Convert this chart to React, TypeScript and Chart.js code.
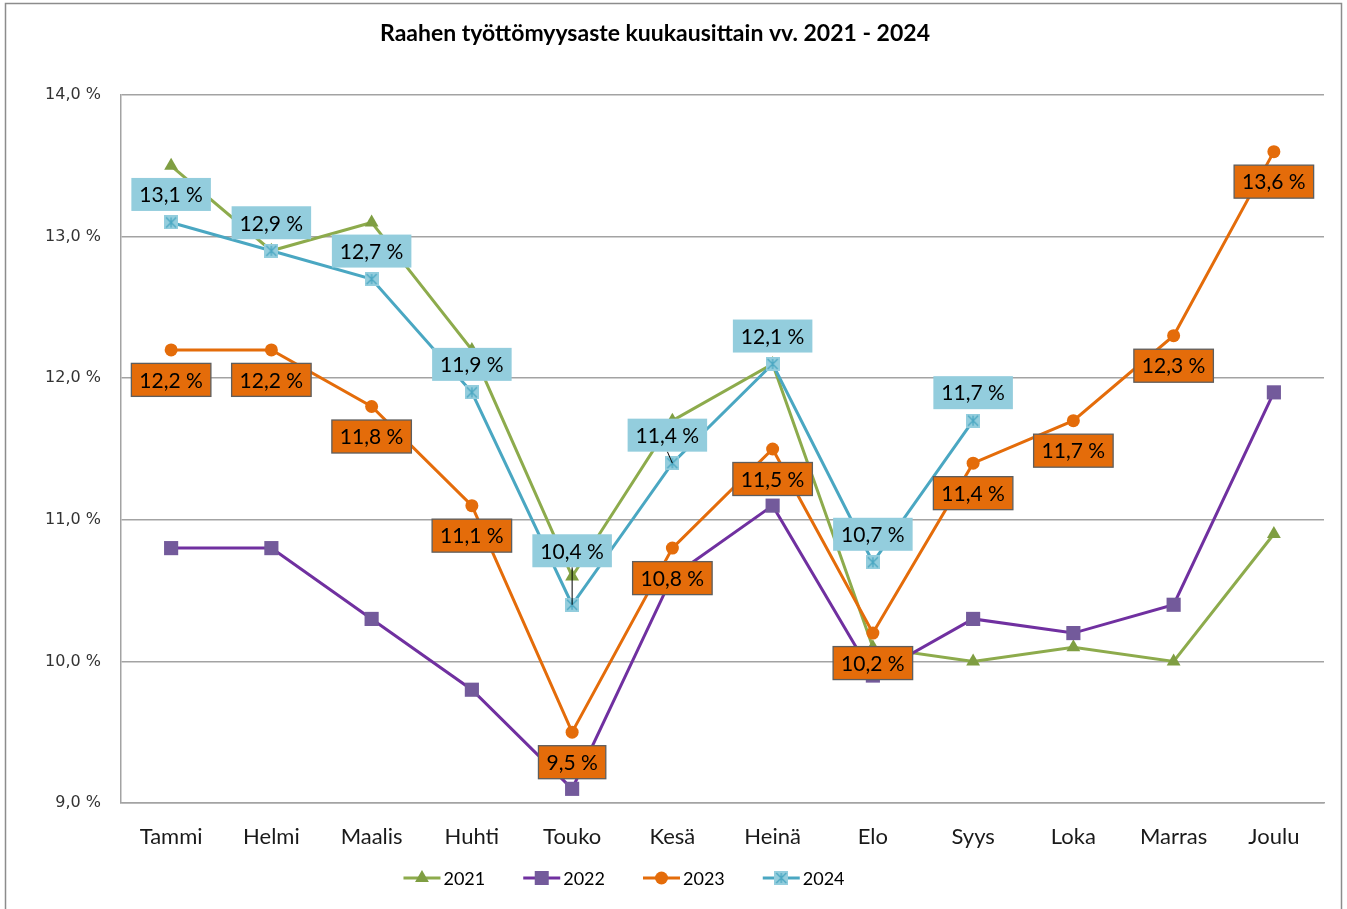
import React, { useEffect, useRef } from 'react';
import { Chart, registerables } from 'chart.js';

Chart.register(...registerables);

const TITLE = 'Raahen työttömyysaste kuukausittain vv. 2021 - 2024';
const MONTHS = ['Tammi', 'Helmi', 'Maalis', 'Huhti', 'Touko', 'Kesä', 'Heinä', 'Elo', 'Syys', 'Loka', 'Marras', 'Joulu'];
const YEARS = ['2021', '2022', '2023', '2024'];
const RATE_2021 = [13.5, 12.9, 13.1, 12.2, 10.6, 11.7, 12.1, 10.1, 10.0, 10.1, 10.0, 10.9];
const RATE_2022 = [10.8, 10.8, 10.3, 9.8, 9.1, 10.6, 11.1, 9.9, 10.3, 10.2, 10.4, 11.9];
const RATE_2023 = [12.2, 12.2, 11.8, 11.1, 9.5, 10.8, 11.5, 10.2, 11.4, 11.7, 12.3, 13.6];
const RATE_2024 = [13.1, 12.9, 12.7, 11.9, 10.4, 11.4, 12.1, 10.7, 11.7, null, null, null];
const Y_MIN = 9;
const Y_MAX = 14;
const Y_STEP = 1;

// styling / layout constants
const W = 1347;
const H = 909;
const GRID = '#A3A3A3';
const C2021 = '#8DAB4C';
const C2021M = '#7F9E42';
const C2022 = '#7030A0';
const C2022M = '#735A9B';
const C2023 = '#E46C0A';
const C2024 = '#4AA7C2';
const C2024BOX = '#93CDDD';
const LABEL_FONT = '21px Lato, "Open Sans", sans-serif';
const TITLE_FONT = 'bold 23px Lato, "Open Sans", sans-serif';
const TITLE_X = 655;
const TITLE_Y = 34;
const LEGEND_CENTER_X = 624;
const LEGEND_Y = 878;
// label nudges for 2024 labels (index -> pixel nudge)
const NUDGE_2024: Record<number, { dx: number; dy: number }> = { 4: { dx: 0, dy: -26 }, 5: { dx: -5, dy: 0 } };

const fmt = (v: number) => v.toFixed(1).replace('.', ',') + ' %';

function makeStarMarker(size: number, fill: string, stroke: string) {
  const c = document.createElement('canvas');
  c.width = size;
  c.height = size;
  const g = c.getContext('2d')!;
  g.fillStyle = fill;
  g.fillRect(0, 0, size, size);
  g.strokeStyle = stroke;
  g.lineWidth = 1.3;
  const m = size / 2;
  const r = size / 2 - 2;
  g.beginPath();
  g.moveTo(m, m - r);
  g.lineTo(m, m + r);
  g.moveTo(m - r, m - r);
  g.lineTo(m + r, m + r);
  g.moveTo(m + r, m - r);
  g.lineTo(m - r, m + r);
  g.stroke();
  return c;
}

function drawMarker(ctx: CanvasRenderingContext2D, kind: string, x: number, y: number, color: string, img?: HTMLCanvasElement) {
  ctx.save();
  ctx.fillStyle = color;
  if (kind === 'triangle') {
    const r = 8;
    ctx.beginPath();
    ctx.moveTo(x, y - r);
    ctx.lineTo(x + r * 0.866, y + r * 0.5);
    ctx.lineTo(x - r * 0.866, y + r * 0.5);
    ctx.closePath();
    ctx.fill();
  } else if (kind === 'rect') {
    ctx.fillRect(x - 7, y - 7, 14, 14);
  } else if (kind === 'circle') {
    ctx.beginPath();
    ctx.arc(x, y, 6.5, 0, Math.PI * 2);
    ctx.fill();
  } else if (img) {
    ctx.drawImage(img, x - img.width / 2, y - img.height / 2);
  }
  ctx.restore();
}

export default function App() {
  const ref = useRef<HTMLCanvasElement>(null);

  useEffect(() => {
    const canvas = ref.current!;
    const star = makeStarMarker(14, C2024BOX, C2024);

    const seriesStyles = [
      { line: C2021, marker: C2021M, kind: 'triangle' },
      { line: C2022, marker: C2022M, kind: 'rect' },
      { line: C2023, marker: C2023, kind: 'circle' },
      { line: C2024, marker: C2024, kind: 'image' },
    ];

    const decor = {
      id: 'decor',
      beforeDraw(chart: any) {
        const ctx = chart.ctx as CanvasRenderingContext2D;
        ctx.save();
        ctx.fillStyle = '#fff';
        ctx.fillRect(0, 0, W, H);
        ctx.strokeStyle = '#8C8C8C';
        ctx.lineWidth = 1.5;
        ctx.strokeRect(5.5, 3.5, 1336, 930);
        ctx.restore();
      },
      afterDatasetsDraw(chart: any) {
        const ctx = chart.ctx as CanvasRenderingContext2D;
        ctx.save();
        ctx.font = LABEL_FONT;
        ctx.textAlign = 'center';
        ctx.textBaseline = 'middle';
        // 2023 labels: below points, orange boxes
        const m23 = chart.getDatasetMeta(2);
        m23.data.forEach((pt: any, i: number) => {
          const v = RATE_2023[i];
          if (v == null) return;
          const t = fmt(v);
          const tw = ctx.measureText(t).width;
          const bw = tw + 16;
          const bh = 33;
          const cx = pt.x;
          const cy = pt.y + 30;
          ctx.fillStyle = C2023;
          ctx.fillRect(cx - bw / 2, cy - bh / 2, bw, bh);
          ctx.strokeStyle = '#5E5E5E';
          ctx.lineWidth = 1.3;
          ctx.strokeRect(cx - bw / 2, cy - bh / 2, bw, bh);
          ctx.fillStyle = '#000';
          ctx.fillText(t, cx, cy + 1);
        });
        // 2024 labels: above points, light blue boxes
        const m24 = chart.getDatasetMeta(3);
        m24.data.forEach((pt: any, i: number) => {
          const v = RATE_2024[i];
          if (v == null) return;
          const t = fmt(v);
          const tw = ctx.measureText(t).width;
          const bw = tw + 16;
          const bh = 33;
          const n = NUDGE_2024[i] || { dx: 0, dy: 0 };
          const cx = pt.x + n.dx;
          const cy = pt.y - 28 + n.dy;
          if (n.dx !== 0 || n.dy !== 0) {
            ctx.strokeStyle = '#000';
            ctx.lineWidth = 1;
            ctx.beginPath();
            ctx.moveTo(cx, cy + bh / 2);
            ctx.lineTo(pt.x, pt.y);
            ctx.stroke();
          }
          ctx.fillStyle = C2024BOX;
          ctx.fillRect(cx - bw / 2, cy - bh / 2, bw, bh);
          ctx.fillStyle = '#000';
          ctx.fillText(t, cx, cy + 1);
        });
        ctx.restore();
      },
      afterDraw(chart: any) {
        const ctx = chart.ctx as CanvasRenderingContext2D;
        ctx.save();
        // title
        ctx.font = TITLE_FONT;
        ctx.fillStyle = '#000';
        ctx.textAlign = 'center';
        ctx.textBaseline = 'middle';
        ctx.fillText(TITLE, TITLE_X, TITLE_Y);
        // legend
        ctx.font = '18px Lato, "Open Sans", sans-serif';
        const swatch = 37;
        const gap = 3;
        const between = 38;
        const widths = YEARS.map((y) => swatch + gap + ctx.measureText(y).width);
        const total = widths.reduce((a, b) => a + b, 0) + between * (YEARS.length - 1);
        let x = LEGEND_CENTER_X - total / 2;
        ctx.textAlign = 'left';
        YEARS.forEach((y, i) => {
          const s = seriesStyles[i];
          ctx.strokeStyle = s.line;
          ctx.lineWidth = 3;
          ctx.beginPath();
          ctx.moveTo(x, LEGEND_Y);
          ctx.lineTo(x + swatch, LEGEND_Y);
          ctx.stroke();
          drawMarker(ctx, s.kind, x + swatch / 2, LEGEND_Y, s.marker, star);
          ctx.fillStyle = '#000';
          ctx.fillText(y, x + swatch + gap, LEGEND_Y + 1);
          x += widths[i] + between;
        });
        ctx.restore();
      },
    };

    const chart = new Chart(canvas, {
      type: 'line',
      data: {
        labels: MONTHS,
        datasets: [
          {
            label: YEARS[0],
            data: RATE_2021,
            borderColor: C2021,
            backgroundColor: C2021M,
            borderWidth: 3,
            pointStyle: 'triangle',
            pointRadius: 8,
            pointBorderWidth: 0,
            pointBackgroundColor: C2021M,
            pointBorderColor: C2021M,
            order: 4,
          },
          {
            label: YEARS[1],
            data: RATE_2022,
            borderColor: C2022,
            backgroundColor: C2022M,
            borderWidth: 3,
            pointStyle: 'rect',
            pointRadius: 10,
            pointBorderWidth: 0,
            pointBackgroundColor: C2022M,
            pointBorderColor: C2022M,
            order: 3,
          },
          {
            label: YEARS[2],
            data: RATE_2023,
            borderColor: C2023,
            backgroundColor: C2023,
            borderWidth: 3,
            pointStyle: 'circle',
            pointRadius: 6.5,
            pointBorderWidth: 0,
            pointBackgroundColor: C2023,
            pointBorderColor: C2023,
            order: 2,
          },
          {
            label: YEARS[3],
            data: RATE_2024,
            borderColor: C2024,
            backgroundColor: C2024BOX,
            borderWidth: 3,
            pointStyle: star as any,
            pointRadius: 7,
            pointBorderWidth: 0,
            order: 1,
          },
        ],
      },
      options: {
        responsive: false,
        animation: false,
        spanGaps: false,
        layout: { padding: { top: 95, right: 23, left: 0, bottom: 0 } },
        plugins: {
          legend: { display: false },
          title: { display: false },
          tooltip: { enabled: false },
        },
        elements: { line: { tension: 0 } },
        scales: {
          x: {
            offset: true,
            grid: { display: false, drawTicks: false },
            border: { display: true, color: GRID, width: 1.5 },
            ticks: {
              color: '#1A1A1A',
              font: { family: 'Lato, "Open Sans", sans-serif', size: 22 },
              padding: 21,
              maxRotation: 0,
              autoSkip: false,
            },
            afterFit: (s: any) => {
              s.height = 106;
            },
          },
          y: {
            min: Y_MIN,
            max: Y_MAX,
            grid: { color: GRID, lineWidth: 1.5, drawTicks: false },
            border: { display: true, color: GRID, width: 1.5 },
            ticks: {
              stepSize: Y_STEP,
              color: '#333333',
              font: { family: '"DejaVu Sans", Verdana, sans-serif', size: 16 },
              padding: 20,
              callback: (v: any) => fmt(Number(v)),
            },
            afterFit: (s: any) => {
              s.width = 121;
            },
          },
        },
      },
      plugins: [decor],
    });

    return () => chart.destroy();
  }, []);

  return (
    <div style={{ position: 'fixed', left: 0, top: 0, width: W, height: H, background: '#fff' }}>
      <canvas ref={ref} width={W} height={H} style={{ display: 'block', width: W, height: H }} />
    </div>
  );
}
